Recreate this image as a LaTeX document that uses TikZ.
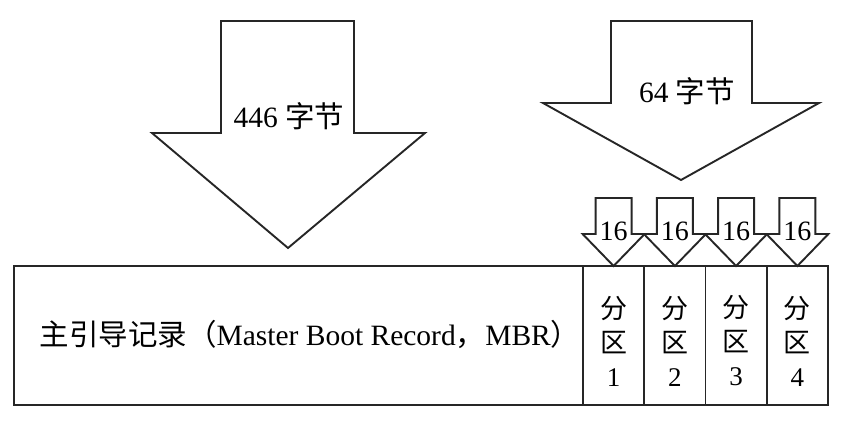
\documentclass[tikz,border=0pt]{standalone}
\usepackage{fontspec}
\setmainfont{Liberation Serif}
\newfontfamily\cjk{Noto Sans CJK SC}
\begin{document}
\begin{tikzpicture}[x=1pt,y=-1pt,
  shapeline/.style={draw=black!85,line width=1.9pt,line join=miter,fill=white},
  lbl/.style={inner sep=0pt,font=\fontsize{29.5}{34}\selectfont},
  plbl/.style={inner sep=0pt,align=center,font=\fontsize{27}{36}\selectfont}]
\useasboundingbox (0,0) rectangle (863,423);
% big left arrow
\draw[shapeline] (221,21) -- (354,21) -- (354,133) -- (425,133) -- (288,248) -- (152,133) -- (221,133) -- cycle;
\node[lbl] (l446) at (289,116) {446 {\cjk 字节}};
% big right arrow
\draw[shapeline] (611,21) -- (752,21) -- (752,103) -- (819,103) -- (681,180) -- (543,103) -- (611,103) -- cycle;
\node[lbl] (l64) at (687,91) {64 {\cjk 字节}};
% main box
\draw[shapeline] (14,266) rectangle (828,405);
\foreach \x in {583,644.25,705.5,766.75}
  \draw[shapeline] (\x,266) -- (\x,405);
\node[lbl] (mbr) at (310,334) {{\cjk 主引导记录（}Master Boot Record{\cjk ，}MBR{\cjk ）}};
% small arrows and partitions
\foreach \i/\c in {1/613.6,2/674.9,3/736.1,4/797.4}{
  \draw[shapeline] (\c-18,198) -- (\c+18,198) -- (\c+18,234) -- (\c+31,234) -- (\c,266) -- (\c-31,234) -- (\c-18,234) -- cycle;
  \node[lbl,font=\fontsize{28}{30}\selectfont] (s\i) at (\c,231) {16};
  \node[plbl] (p\i) at (\c,341) {{\cjk 分}\\[-2pt]{\cjk 区}\\[-2pt]\i};
}
\end{tikzpicture}
\end{document}
